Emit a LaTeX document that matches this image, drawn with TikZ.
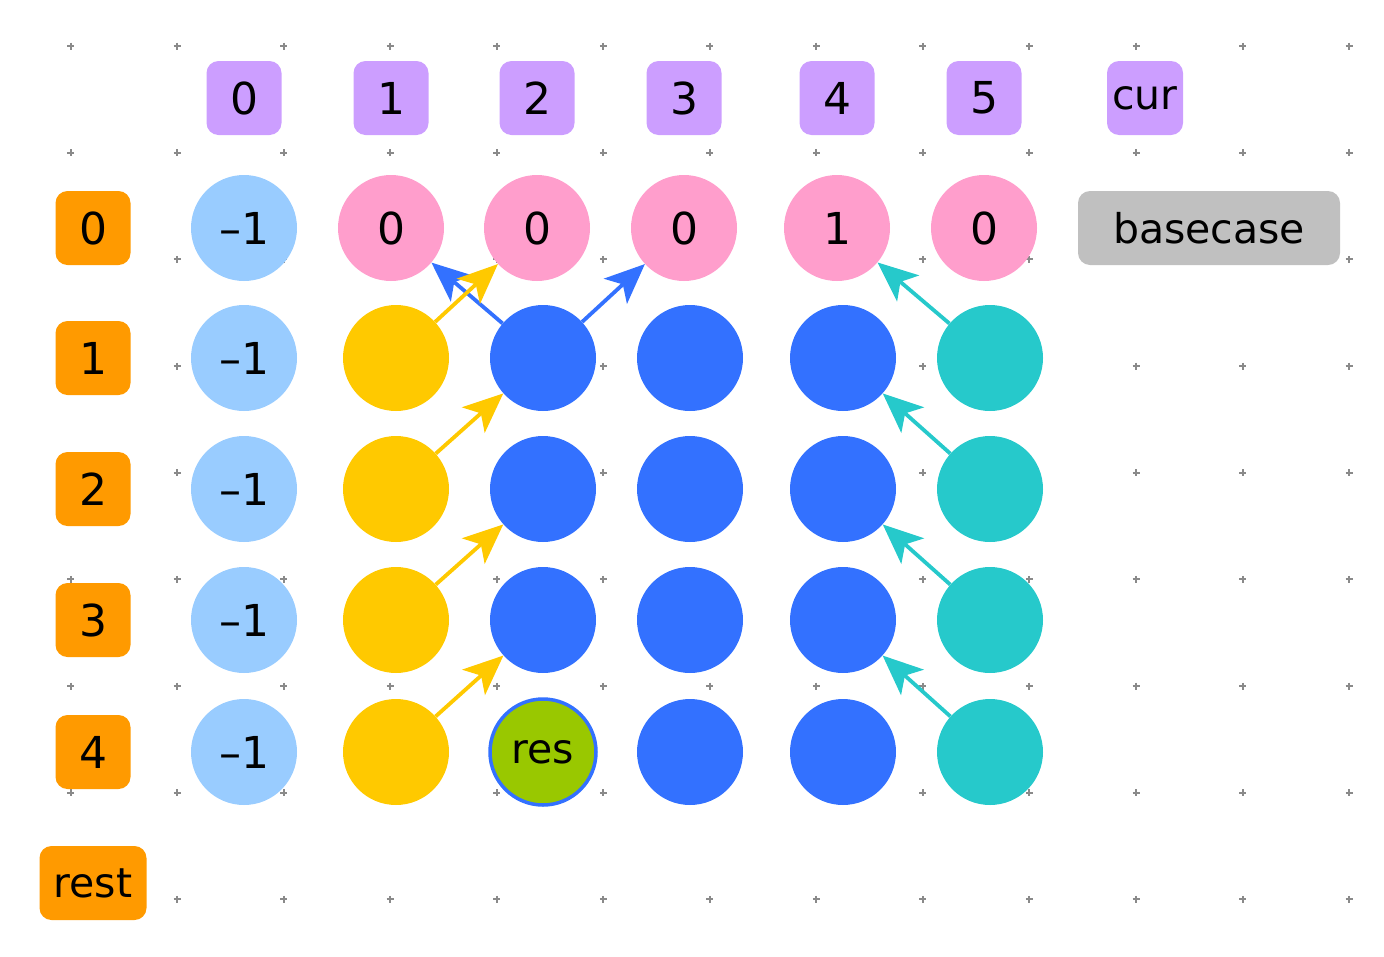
\documentclass[tikz,border=0pt]{standalone}
\usepackage{fontspec}
\setmainfont{DejaVu Sans}
\usetikzlibrary{arrows.meta}
\definecolor{lblue}{HTML}{99CCFF}
\definecolor{pinkc}{HTML}{FF9ECC}
\definecolor{yel}{HTML}{FFC900}
\definecolor{blu}{HTML}{3371FF}
\definecolor{tealc}{HTML}{26C9CB}
\definecolor{grn}{HTML}{99C800}
\definecolor{orng}{HTML}{FF9A00}
\definecolor{purp}{HTML}{CC9EFF}
\definecolor{grayb}{HTML}{C0C0C0}
\definecolor{dotc}{HTML}{8A8A8A}
\begin{document}
\begin{tikzpicture}[x=1pt,y=-1pt,
  box/.style={rounded corners=12pt, inner sep=0pt, minimum height=74pt, minimum width=75pt, font=\fontsize{44}{44}\selectfont, text=black},
  hbox/.style={box, fill=purp},
  obox/.style={box, fill=orng},
  word/.style={font=\fontsize{41}{41}\selectfont},
  cell/.style={circle, inner sep=0pt, minimum size=106pt, font=\fontsize{44}{44}\selectfont},
  lb/.style={cell, fill=lblue},
  pk/.style={cell, fill=pinkc},
  ye/.style={cell, fill=yel},
  bl/.style={cell, fill=blu},
  te/.style={cell, fill=tealc},
  rescell/.style={cell, fill=grn, draw=blu, line width=3.5pt, font=\fontsize{41}{41}\selectfont},
  arr/.style={line width=3.8pt, -{Stealth[length=40pt,width=34pt,inset=10pt]}},
  plusmark/.style={dotc, line width=2pt},
]
\useasboundingbox (0,0) rectangle (1384,956);
% background dot grid
\foreach \i in {0,...,12}{
  \foreach \j in {0,...,8}{
    \draw[plusmark] ({70.5+106.55*\i-3.5},{46+106.67*\j}) -- ++(7,0)
                    ({70.5+106.55*\i},{46+106.67*\j-3.5}) -- ++(0,7);
  }
}
% column headers
\node[hbox] (h0) at (244,98) {0};
\node[hbox] (h1) at (391,98) {1};
\node[hbox] (h2) at (537,98) {2};
\node[hbox] (h3) at (684,98) {3};
\node[hbox] (h4) at (837,98) {4};
\node[hbox] (h5) at (984,98) {5};
\node[hbox, word, minimum width=76pt] (hcur) at (1145,98) {cur};
% row labels
\node[obox] (r0) at (93,228) {0};
\node[obox] (r1) at (93,358) {1};
\node[obox] (r2) at (93,489) {2};
\node[obox] (r3) at (93,620) {3};
\node[obox] (r4) at (93,752) {4};
\node[obox, word, minimum width=107pt] (rrest) at (93,883) {rest};
% base case label
\node[box, word, fill=grayb, minimum width=262pt] (bc) at (1209,228) {basecase};
% row 0
\node[lb] (c00) at (244,228) {–1};
\node[pk] (c01) at (391,228) {0};
\node[pk] (c02) at (537,228) {0};
\node[pk] (c03) at (684,228) {0};
\node[pk] (c04) at (837,228) {1};
\node[pk] (c05) at (984,228) {0};
% row 1
\node[lb] (c10) at (244,358) {–1};
\node[ye] (c11) at (396,358) {};
\node[bl] (c12) at (543,358) {};
\node[bl] (c13) at (690,358) {};
\node[bl] (c14) at (843,358) {};
\node[te] (c15) at (990,358) {};
% row 2
\node[lb] (c20) at (244,489) {–1};
\node[ye] (c21) at (396,489) {};
\node[bl] (c22) at (543,489) {};
\node[bl] (c23) at (690,489) {};
\node[bl] (c24) at (843,489) {};
\node[te] (c25) at (990,489) {};
% row 3
\node[lb] (c30) at (244,620) {–1};
\node[ye] (c31) at (396,620) {};
\node[bl] (c32) at (543,620) {};
\node[bl] (c33) at (690,620) {};
\node[bl] (c34) at (843,620) {};
\node[te] (c35) at (990,620) {};
% row 4
\node[lb] (c40) at (244,752) {–1};
\node[ye] (c41) at (396,752) {};
\node[rescell] (c42) at (543,752) {res};
\node[bl] (c43) at (690,752) {};
\node[bl] (c44) at (843,752) {};
\node[te] (c45) at (990,752) {};
% blue arrows
\draw[arr, blu] (c12) -- (c01);
\draw[arr, blu] (c12) -- (c03);
% yellow arrows
\draw[arr, yel] (c11) -- (c02);
\draw[arr, yel] (c21) -- (c12);
\draw[arr, yel] (c31) -- (c22);
\draw[arr, yel] (c41) -- (c32);
% teal arrows
\draw[arr, tealc] (c15) -- (c04);
\draw[arr, tealc] (c25) -- (c14);
\draw[arr, tealc] (c35) -- (c24);
\draw[arr, tealc] (c45) -- (c34);
\end{tikzpicture}
\end{document}
